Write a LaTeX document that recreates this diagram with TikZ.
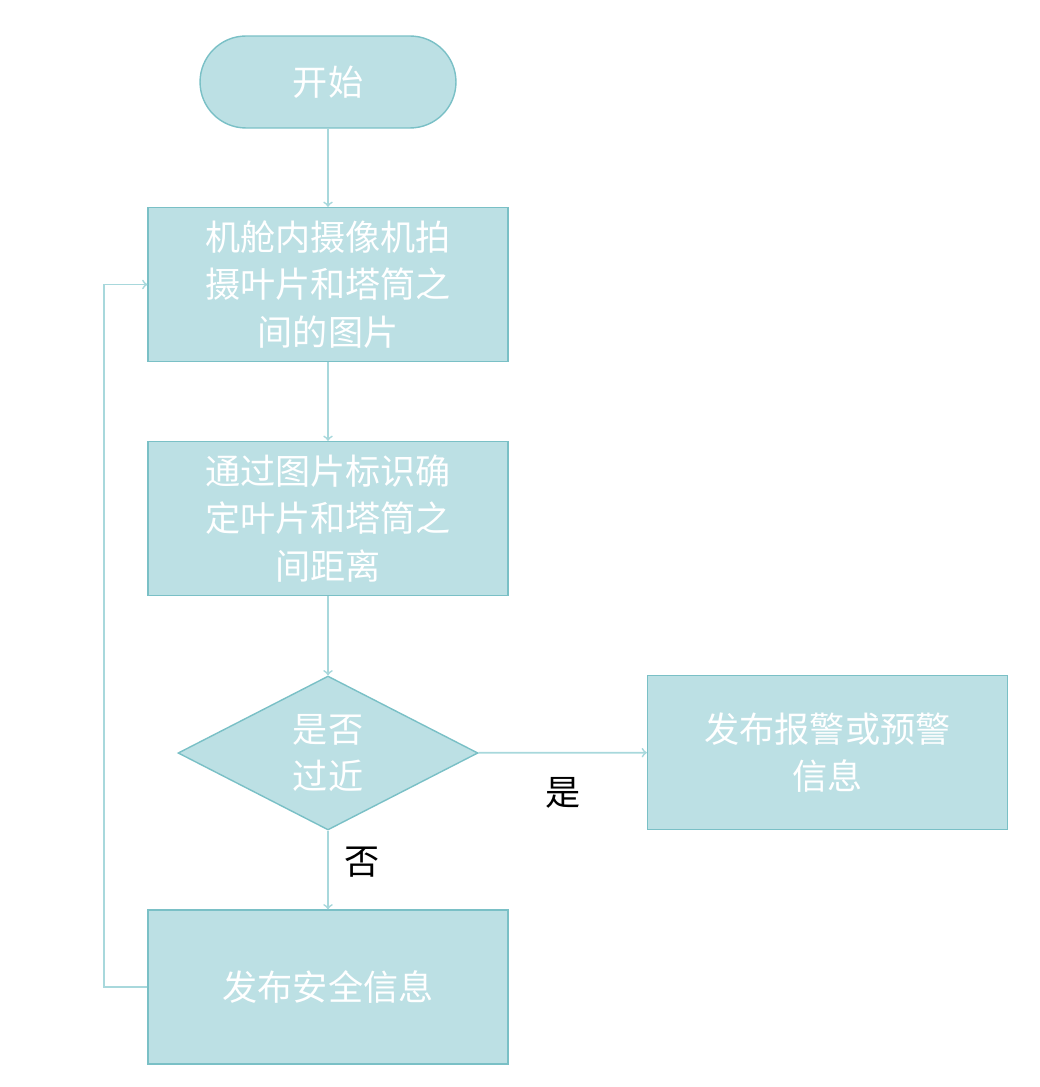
\documentclass[tikz,border=0pt]{standalone}
\usepackage{fontspec}
\newfontfamily\cjk{Noto Sans CJK SC}
\usetikzlibrary{shapes.geometric}
\definecolor{boxfill}{HTML}{BCE0E4}
\definecolor{boxline}{HTML}{7AC0C6}
\definecolor{arwline}{HTML}{A8D8DC}
\begin{document}
\begin{tikzpicture}[
  x=0.02cm, y=-0.02cm,
  every node/.style={font=\cjk\fontsize{20}{27}\selectfont},
  pbox/.style={rectangle, draw=boxline, fill=boxfill, text=white, minimum width=7.2cm, minimum height=3.08cm, align=center, text width=6.2cm, line width=0.8pt},
  tbox/.style={rectangle, rounded corners=0.92cm, draw=boxline, fill=boxfill, text=white, minimum width=5.12cm, minimum height=1.84cm, line width=0.8pt},
  dbox/.style={diamond, draw=boxline, fill=boxfill, text=white, aspect=1.95, minimum width=6cm, minimum height=3.08cm, inner sep=0pt, align=center, line width=0.8pt},
  arw/.style={->, draw=arwline, line width=1pt}
  ]
\useasboundingbox (0,0) rectangle (1039,1087);

\node [tbox] (start) at (328,82) {开始};
\node [pbox] (shoot) at (328,284.5) {机舱内摄像机拍\\摄叶片和塔筒之\\间的图片};
\node [pbox] (dist) at (328,518.5) {通过图片标识确\\定叶片和塔筒之\\间距离};
\node [dbox] (near) at (328,753) {是否\\过近};
\node [pbox] (alarm) at (827.5,752.5) {发布报警或预警\\信息};
\node [pbox] (safe) at (328,987) {发布安全信息};
\coordinate (corner) at (104,987);
\coordinate (turn) at (104,284.5);

\draw [arw] (start) -- (shoot);
\draw [arw] (shoot) -- (dist);
\draw [arw] (dist) -- (near);
\draw [arw] (near) -- node [pos=0.5, below=0.35cm, text=black] {是} (alarm);
\draw [arw] (near) -- node [pos=0.4, right=0.2cm, text=black] {否} (safe);
\draw [arw] (safe) -- (corner) -- (turn) -- (shoot);

\end{tikzpicture}
\end{document}
